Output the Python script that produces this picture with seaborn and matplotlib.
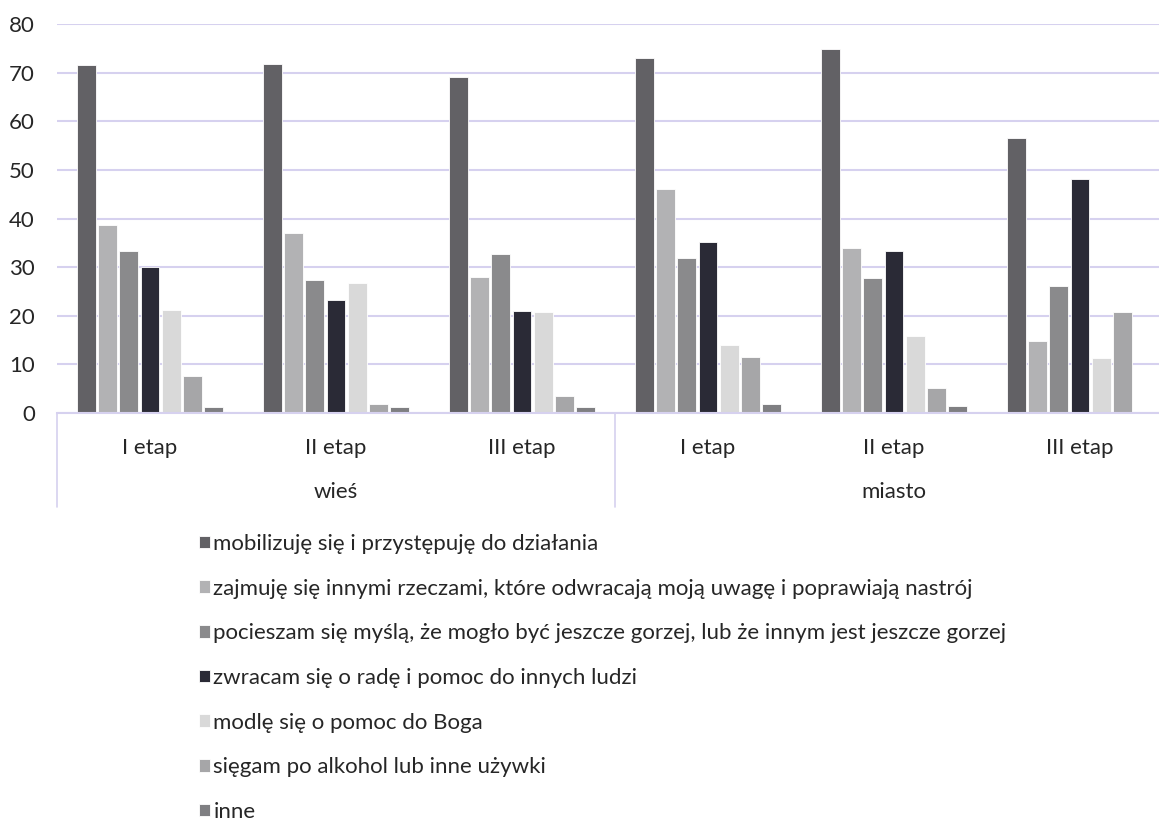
import pandas as pd
import seaborn as sns
import matplotlib.pyplot as plt

groups = ['wieś', 'miasto']
stages = ['I etap', 'II etap', 'III etap']
series = ['mobilizuję się i przystępuję do działania',
          'zajmuję się innymi rzeczami, które odwracają moją uwagę i poprawiają nastrój',
          'pocieszam się myślą, że mogło być jeszcze gorzej, lub że innym jest jeszcze gorzej',
          'zwracam się o radę i pomoc do innych ludzi',
          'modlę się o pomoc do Boga',
          'sięgam po alkohol lub inne używki',
          'inne']

# values per series, order: wieś I, II, III, miasto I, II, III
mobilizuje = [71.6, 71.8, 69.1, 73.1, 75.0, 56.6]
zajmuje = [38.7, 37.1, 28.0, 46.1, 33.9, 14.9]
pocieszam = [33.4, 27.3, 32.8, 31.9, 27.8, 26.1]
zwracam = [30.0, 23.3, 21.0, 35.2, 33.3, 48.2]
modle = [21.1, 26.7, 20.8, 14.0, 15.9, 11.4]
siegam = [7.7, 1.9, 3.6, 11.6, 5.1, 20.8]
inne = [1.2, 1.2, 1.2, 1.8, 1.4, 0.3]

colors = ['#616066', '#b2b2b4', '#8a8a8c', '#282838', '#d9d9d9', '#a6a6a8', '#7f7f82']

cats = [g + '|' + s for g in groups for s in stages]
rows = []
for name, vals in zip(series, [mobilizuje, zajmuje, pocieszam, zwracam, modle, siegam, inne]):
    for c, v in zip(cats, vals):
        rows.append({'kat': c, 'odp': name, 'proc': v})
df = pd.DataFrame(rows)

sns.set_style('white')
plt.rcParams['font.family'] = ['Lato', 'DejaVu Sans']
plt.rcParams['font.size'] = 16

fig = plt.figure(figsize=(11.59, 8.21), dpi=100)
ax = fig.add_axes([57 / 1159, 408 / 821, 1116 / 1159, 388.7 / 821])

sns.barplot(data=df, x='kat', y='proc', hue='odp', order=cats, hue_order=series,
            palette=colors, errorbar=None, width=0.8, gap=0.12,
            edgecolor='white', linewidth=0.6, ax=ax)

grid_c = '#d6d1ef'
ax.set_ylim(0, 80)
ax.set_yticks(range(0, 81, 10))
ax.yaxis.grid(True, color=grid_c, linewidth=1.5)
ax.set_axisbelow(True)
ax.set_xlim(-0.5, 5.5)
for s in ['top', 'right', 'left']:
    ax.spines[s].set_visible(False)
ax.spines['bottom'].set_color(grid_c)
ax.spines['bottom'].set_linewidth(1.5)
ax.tick_params(axis='y', length=0, pad=16, labelsize=16)
ax.tick_params(axis='x', length=0, pad=18, labelsize=16)
ax.set_xticks(range(6))
ax.set_xticklabels(stages * 2)
ax.set_xlabel('')
ax.set_ylabel('')

trans = ax.get_xaxis_transform()
for x in [-0.5, 2.5, 5.5]:
    ax.plot([x, x], [0, -0.242], color=grid_c, linewidth=1.2, transform=trans, clip_on=False)
for i, g in enumerate(groups):
    ax.text(1 + 3 * i, -0.202, g, transform=trans, ha='center', va='center', fontsize=16)

sns.move_legend(ax, 'upper left', bbox_to_anchor=(199 / 1159, 287 / 821),
                bbox_transform=fig.transFigure, frameon=False, title=None,
                handlelength=0.5, handleheight=0.5, handletextpad=0.15,
                labelspacing=1.11, borderpad=0, borderaxespad=0, fontsize=16)

plt.savefig('out.png', dpi=100)
